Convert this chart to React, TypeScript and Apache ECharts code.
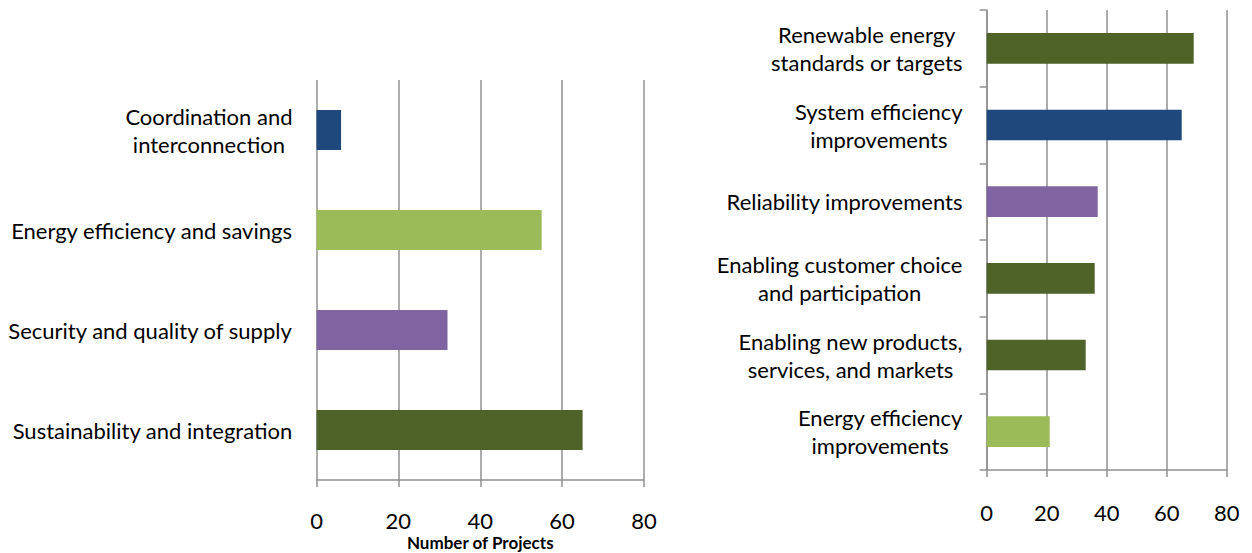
import React, { useEffect, useRef } from "react";
import * as echarts from "echarts";

const leftCategories = [
  "Sustainability and integration",
  "Security and quality of supply",
  "Energy efficiency and savings",
  "Coordination and\ninterconnection",
];
const leftValues = [65, 32, 55, 6];
const leftColors = ["#4f6228", "#8064a2", "#9bbb59", "#1f497d"];

const rightCategories = [
  "Energy efficiency\nimprovements",
  "Enabling new products,\nservices, and markets",
  "Enabling customer choice\nand participation",
  "Reliability improvements",
  "System efficiency\nimprovements",
  "Renewable energy\nstandards or targets",
];
const rightValues = [21, 33, 36, 37, 65, 69];
const rightColors = ["#9bbb59", "#4f6228", "#4f6228", "#8064a2", "#1f497d", "#4f6228"];

const xTicks = { min: 0, max: 80, interval: 20 };
const leftAxisTitle = "Number of Projects";

const FONT = "Lato, 'Open Sans', sans-serif";
const GRAY = "#909090";

function catLabel(fontSize: number) {
  return {
    margin: 24,
    align: "right" as const,
    formatter: (v: string) =>
      v
        .split("\n")
        .map((l) => `{c|${l}}`)
        .join("\n"),
    rich: {
      c: {
        align: "center",
        fontSize,
        fontFamily: FONT,
        color: "#000",
        lineHeight: 28,
      },
    },
  };
}

export default function App() {
  const ref = useRef<HTMLDivElement>(null);
  useEffect(() => {
    if (!ref.current) return;
    const chart = echarts.init(ref.current, undefined, { renderer: "svg" });
    const valueAxisCommon = (labelMargin: number) => ({
      type: "value" as const,
      min: xTicks.min,
      max: xTicks.max,
      interval: xTicks.interval,
      axisLine: { show: true, lineStyle: { color: GRAY, width: 1.5 } },
      axisTick: { show: true, length: 7, lineStyle: { color: GRAY, width: 1.5 } },
      splitLine: { show: true, lineStyle: { color: GRAY, width: 1.5 } },
      axisLabel: {
        margin: labelMargin,
        fontSize: 22,
        lineHeight: 18,
        fontFamily: FONT,
        color: "#000",
      },
    });
    chart.setOption({
      animation: false,
      backgroundColor: "#ffffff",
      grid: [
        {
          left: 316.5,
          top: 80,
          width: 327.5,
          height: 400,
          containLabel: false,
          outerBoundsMode: "none",
        },
        {
          left: 986.7,
          top: 10,
          width: 240,
          height: 460,
          containLabel: false,
          outerBoundsMode: "none",
        },
      ],
      xAxis: [
        {
          ...valueAxisCommon(31),
          gridIndex: 0,
          name: leftAxisTitle,
          nameLocation: "middle",
          nameGap: 54,
          nameMoveOverlap: false,
          nameTextStyle: {
            fontSize: 17,
            lineHeight: 17,
            fontWeight: "bold",
            fontFamily: FONT,
            color: "#000",
          },
        },
        { ...valueAxisCommon(33), gridIndex: 1 },
      ],
      yAxis: [
        {
          type: "category",
          gridIndex: 0,
          data: leftCategories,
          axisLine: { show: false },
          axisTick: { show: false },
          axisLabel: catLabel(22),
        },
        {
          type: "category",
          gridIndex: 1,
          data: rightCategories,
          axisLine: { show: true, lineStyle: { color: GRAY, width: 1.5 } },
          axisTick: { show: true, length: 7, lineStyle: { color: GRAY, width: 1.5 } },
          axisLabel: catLabel(22),
        },
      ],
      series: [
        {
          type: "bar",
          xAxisIndex: 0,
          yAxisIndex: 0,
          barWidth: "40%",
          data: leftValues.map((v, i) => ({ value: v, itemStyle: { color: leftColors[i] } })),
        },
        {
          type: "bar",
          xAxisIndex: 1,
          yAxisIndex: 1,
          barWidth: "40%",
          data: rightValues.map((v, i) => ({ value: v, itemStyle: { color: rightColors[i] } })),
        },
      ],
    });
    return () => chart.dispose();
  }, []);
  return (
    <div
      ref={ref}
      style={{ position: "absolute", left: 0, top: 0, width: 1252, height: 553 }}
    />
  );
}
